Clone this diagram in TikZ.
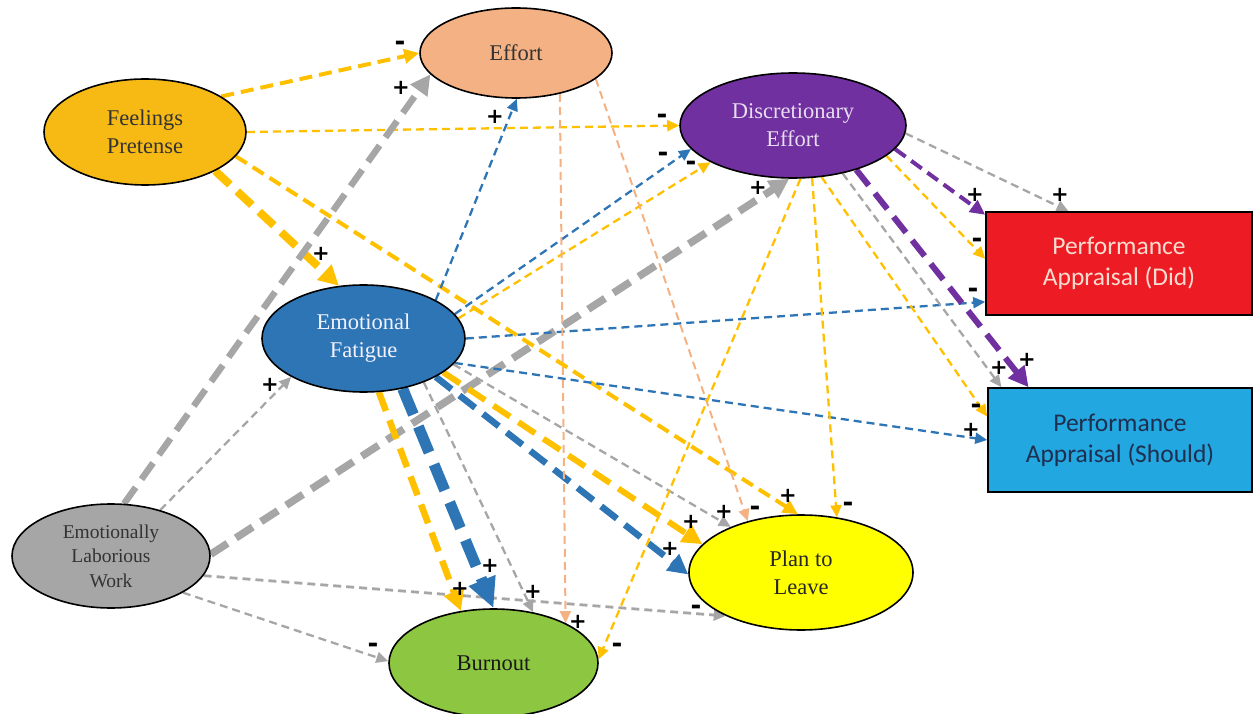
\documentclass[tikz,border=0pt]{standalone}
\usepackage{fontspec}
\setmainfont{Liberation Serif}
\newfontfamily\timesx{Liberation Serif}
\newfontfamily\calib{Carlito}
\newfontfamily\signfont{DejaVu Sans}
\usetikzlibrary{shapes.geometric,arrows.meta,backgrounds}
\definecolor{gold}{HTML}{FFC000}
\definecolor{fpfill}{HTML}{F7BA15}
\definecolor{blu}{HTML}{2E75B6}
\definecolor{gry}{HTML}{A6A6A6}
\definecolor{pch}{HTML}{F4B183}
\definecolor{purp}{HTML}{7030A0}
\definecolor{grn}{HTML}{8DC641}
\definecolor{ylw}{HTML}{FFFF00}
\definecolor{redbox}{HTML}{ED1C24}
\definecolor{skybox}{HTML}{22A7E0}
\definecolor{didtext}{HTML}{F8DCCF}
\definecolor{shtext}{HTML}{1F2F4F}
\definecolor{detext}{HTML}{E8DDF0}
\tikzset{
  ell/.style={ellipse, draw=black, line width=1.6pt, inner sep=0pt, align=center,
    font=\timesx\fontsize{22.5}{28}\selectfont},
  pbox/.style={rectangle, draw=black, line width=1.6pt, inner sep=0pt, align=center,
    font=\calib\fontsize{25.5}{31}\selectfont},
  sg/.style={font=\signfont\bfseries\fontsize{21}{21}\selectfont, inner sep=0pt},
  sm/.style={font=\signfont\bfseries\fontsize{26}{26}\selectfont, inner sep=0pt},
  wa/.style={line width=2.3pt, dash pattern=on 8pt off 5pt, -{Triangle[length=12pt,width=11pt]}},
  wb/.style={line width=4pt, dash pattern=on 13pt off 7pt, -{Triangle[length=15pt,width=14pt]}},
  wc/.style={line width=6.5pt, dash pattern=on 20pt off 10pt, -{Triangle[length=20pt,width=20pt]}},
  wd/.style={line width=11pt, dash pattern=on 28pt off 13pt, -{Triangle[length=30pt,width=27pt]}},
}
\begin{document}
\begin{tikzpicture}[x=1pt,y=-1pt]
\useasboundingbox (0,0) rectangle (1254,714);
% nodes
\node[ell, fill=fpfill, text=black!80, minimum width=202pt, minimum height=106pt] (FP) at (145,132) {Feelings\\Pretense};
\node[ell, fill=pch, text=black!80, minimum width=192pt, minimum height=90pt] (EFF) at (516,53) {Effort};
\node[ell, fill=purp, text=detext, minimum width=226pt, minimum height=105pt] (DE) at (793,125.5) {Discretionary\\Effort};
\node[ell, fill=blu, text=white!95!blue, minimum width=203pt, minimum height=107pt] (EF) at (363.5,338.5) {Emotional\\Fatigue};
\node[ell, fill=gry, text=black!80, minimum width=198pt, minimum height=104pt, font=\timesx\fontsize{19.5}{24.5}\selectfont] (ELW) at (111,556) {Emotionally\\Laborious\\Work};
\node[ell, fill=grn, text=black!90, minimum width=209pt, minimum height=108pt] (BO) at (493.5,663) {Burnout};
\node[ell, fill=ylw, text=black!85, minimum width=224pt, minimum height=115pt] (PL) at (801,572.5) {Plan to\\Leave};
\node[pbox, fill=redbox, text=didtext, minimum width=266pt, minimum height=103pt] (PAD) at (1119,263.5) {Performance\\Appraisal (Did)};
\node[pbox, fill=skybox, text=shtext, minimum width=264pt, minimum height=104pt] (PAS) at (1120,440) {Performance\\Appraisal (Should)};
% edges
\begin{scope}[on background layer]
\draw[wb, gold] (FP.25.9) -- (EFF.180);
\draw[wa, gold] (FP.0) -- (DE.180);
\draw[wc, gold, line width=8pt] (FP.-29.7) -- (EF.115.5);
\draw[wb, gold] (FP.-15.6) -- (PL.93);
\draw[wc, gry] (ELW.76.8) -- (EFF.194);
\draw[wa, gry] (ELW.43.3) -- (EF.208.9);
\draw[wc, gry, line width=7.5pt] (ELW.1) -- (DE.266.8);
\draw[wa, gry, line width=2.8pt] (ELW.-12.9) -- (PL.210);
\draw[wa, gry] (ELW.-27.2) -- (BO.179.5);
\draw[wa, blu] (EF.28.3) -- (EFF.271.3);
\draw[wa, blu] (EF.15.9) -- (DE.193.4);
\draw[wa, gold] (EF.12.8) -- (DE.204.8);
\draw[wa, blu] (EF.0) -- (PAD.196.1);
\draw[wa, blu] (EF.-15) -- (PAS.180.9);
\draw[wd, blu] (EF.-52.5) -- (BO.90.5);
\draw[wc, gold] (EF.-74.3) -- (BO.122.8);
\draw[wa, gry] (EF.-36.8) -- (BO.52.8);
\draw[wc, blu] (EF.-28.3) -- (PL.181.3);
\draw[wc, gold, line width=6pt] (EF.-23.5) -- (PL.164);
\draw[wa, gry] (EF.-16.5) -- (PL.147.6);
\draw[wa, pch, line width=2pt] (EFF.-43.1) -- (BO.29.7);
\draw[wa, pch, line width=2pt] (EFF.-18.4) -- (PL.136.4);
\draw[wb, purp] (DE.-13.3) -- (PAD.160.6);
\draw[wa, gry] (DE.-4.8) -- (PAD.134.7);
\draw[wa, gold] (DE.-18.9) -- (PAD.178.5);
\draw[wc, purp, line width=6pt] (DE.-35.6) -- (PAS.150);
\draw[wa, gry] (DE.-44.7) -- (PAS.156);
\draw[wa, gold] (DE.-61.1) -- (PAS.170.1);
\draw[wa, gold] (DE.-82.4) -- (BO.2.7);
\draw[wa, gold] (DE.-70.4) -- (PL.57.5);
\end{scope}
% signs
\node[sm] (s1) at (400,46) {-};
\node[sm] (s2) at (662,119) {-};
\node[sg] (s3) at (321,254) {+};
\node[sg] (s4) at (788,496) {+};
\node[sg] (s5) at (401,88) {+};
\node[sg] (s6) at (270,385) {+};
\node[sg] (s7) at (758,188) {+};
\node[sm] (s8) at (696,610) {-};
\node[sm] (s9) at (373,648) {-};
\node[sg] (s10) at (495,117) {+};
\node[sm] (s11) at (663,157) {-};
\node[sm] (s12) at (691,166) {-};
\node[sm] (s13) at (973,293) {-};
\node[sg] (s14) at (971,430) {+};
\node[sg] (s15) at (490,566) {+};
\node[sg] (s16) at (460,589) {+};
\node[sg] (s17) at (533,592) {+};
\node[sg] (s18) at (670,549) {+};
\node[sg] (s19) at (691,522) {+};
\node[sg] (s20) at (724,512) {+};
\node[sg] (s21) at (578,622) {+};
\node[sm] (s22) at (755,511) {-};
\node[sg] (s23) at (975,195) {+};
\node[sg] (s24) at (1060,195) {+};
\node[sm] (s25) at (977,243) {-};
\node[sg] (s26) at (1027,360) {+};
\node[sg] (s27) at (999,368) {+};
\node[sm] (s28) at (976,409) {-};
\node[sm] (s29) at (617,648) {-};
\node[sm] (s30) at (848,507) {-};
\end{tikzpicture}
\end{document}
